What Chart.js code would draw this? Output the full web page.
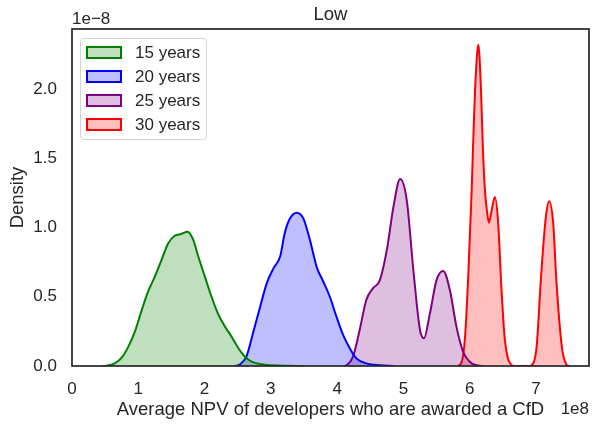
<!DOCTYPE html>
<html>
<head>
<meta charset="utf-8">
<script src="https://cdn.jsdelivr.net/npm/chart.js@4.4.0/dist/chart.umd.min.js"></script>
<style>
  html, body { margin: 0; padding: 0; background: #fff; }
  #wrap { position: relative; width: 592px; height: 427px; }
  #legend {
    position: absolute; left: 80px; top: 38px; width: 127px; height: 102px;
    border: 1px solid #d4d4d4; border-radius: 4px; background: rgba(255,255,255,0.8);
    box-sizing: border-box; font: 17px "Liberation Sans", Arial, sans-serif; color: #262626;
  }
  .item { position: absolute; left: 5px; height: 18px; line-height: 18px; display: flex; align-items: center; white-space: nowrap; }
  .sw { width: 32px; height: 9px; border: 2px solid; margin-right: 13px; }
</style>
</head>
<body>
<div id="wrap">
  <canvas id="kde" width="592" height="427"></canvas>
  <div id="legend"></div>
</div>
<script>
// values in units of 1e8 (x) and 1e-8 (y)
const labels = ['15 years', '20 years', '25 years', '30 years'];
const lineColors = ['green', 'blue', 'purple', 'red'];
const fillColors = ['rgba(0,128,0,0.25)', 'rgba(0,0,255,0.25)', 'rgba(128,0,128,0.25)', 'rgba(255,0,0,0.25)'];

const x15 = [0.45, 0.54, 0.65, 0.75, 0.85, 0.95, 1.05, 1.15, 1.25, 1.35, 1.45, 1.55, 1.65, 1.745, 1.83, 1.905, 2.005, 2.105, 2.21, 2.31, 2.41, 2.51, 2.61, 2.71, 2.86, 3.0, 3.2, 3.5];
const y15 = [0, 0.003, 0.02, 0.06, 0.14, 0.25, 0.40, 0.54, 0.645, 0.765, 0.885, 0.94, 0.953, 0.97, 0.91, 0.79, 0.645, 0.50, 0.37, 0.284, 0.21, 0.128, 0.067, 0.031, 0.012, 0.005, 0.001, 0];

const x20 = [2.45, 2.53, 2.63, 2.73, 2.84, 2.94, 3.04, 3.14, 3.21, 3.29, 3.39, 3.49, 3.59, 3.69, 3.79, 3.89, 3.99, 4.09, 4.19, 4.29, 4.44, 4.65, 4.85];
const y20 = [0, 0.01, 0.067, 0.236, 0.43, 0.60, 0.705, 0.79, 0.96, 1.066, 1.107, 1.066, 0.91, 0.717, 0.61, 0.50, 0.356, 0.224, 0.128, 0.055, 0.019, 0.005, 0];

const x25 = [4.10, 4.14, 4.24, 4.34, 4.44, 4.54, 4.645, 4.75, 4.85, 4.95, 5.05, 5.15, 5.25, 5.31, 5.40, 5.50, 5.60, 5.70, 5.80, 5.90, 6.00, 6.10, 6.2];
const y25 = [0, 0.005, 0.067, 0.26, 0.477, 0.56, 0.62, 0.838, 1.15, 1.35, 1.20, 0.693, 0.26, 0.20, 0.38, 0.62, 0.686, 0.55, 0.284, 0.103, 0.031, 0.005, 0];

const x30 = [5.82, 5.88, 5.93, 5.98, 6.03, 6.06, 6.09, 6.13, 6.17, 6.20, 6.23, 6.26, 6.29, 6.33, 6.38, 6.43, 6.48, 6.53, 6.58, 6.61, 6.66, 6.90, 6.96, 7.01, 7.08, 7.15, 7.20, 7.26, 7.31, 7.39, 7.46, 7.5];
const y30 = [0, 0.03, 0.21, 0.67, 1.27, 1.72, 2.08, 2.32, 2.0, 1.56, 1.27, 1.12, 1.035, 1.12, 1.22, 1.03, 0.55, 0.19, 0.05, 0.02, 0, 0, 0.02, 0.14, 0.67, 1.08, 1.19, 1.03, 0.60, 0.14, 0.01, 0];

const xTicks = [0, 1, 2, 3, 4, 5, 6, 7];
const yTicks = [0, 0.5, 1.0, 1.5, 2.0];

const seriesX = [x15, x20, x25, x30];
const seriesY = [y15, y20, y25, y30];

const FONT = '"Liberation Sans", Arial, sans-serif';
const INK = '#262626';

const datasets = labels.map((lab, i) => ({
  label: lab,
  data: seriesX[i].map((x, j) => ({ x: x, y: seriesY[i][j] })),
  borderColor: lineColors[i],
  backgroundColor: fillColors[i],
  borderWidth: 2,
  fill: 'origin',
  pointRadius: 0,
  cubicInterpolationMode: 'monotone',
}));

// frame + extra texts like matplotlib
const decor = {
  id: 'decor',
  afterDatasetsDraw(chart) {
    const { ctx, chartArea: a } = chart;
    ctx.save();
    ctx.strokeStyle = INK;
    ctx.lineWidth = 1.7;
    ctx.strokeRect(a.left, a.top, a.right - a.left, a.bottom - a.top);
    ctx.fillStyle = INK;
    ctx.textBaseline = 'middle';
    const cx = (a.left + a.right) / 2;
    ctx.font = '18.5px ' + FONT;
    ctx.textAlign = 'center';
    ctx.fillText('Low', cx, 15);
    ctx.fillText('Average NPV of developers who are awarded a CfD', cx, 410);
    ctx.font = '17px ' + FONT;
    ctx.textAlign = 'left';
    ctx.fillText('1e\u22128', a.left, 19);
    ctx.textAlign = 'right';
    ctx.fillText('1e8', a.right, 409);
    ctx.translate(18, (a.top + a.bottom) / 2);
    ctx.rotate(-Math.PI / 2);
    ctx.textAlign = 'center';
    ctx.font = '18.5px ' + FONT;
    ctx.fillText('Density', 0, 0);
    ctx.restore();
  }
};

new Chart(document.getElementById('kde'), {
  type: 'line',
  data: { datasets },
  options: {
    responsive: false,
    animation: false,
    layout: { padding: { top: 29, right: 3, left: 0, bottom: 0 } },
    plugins: { legend: { display: false }, tooltip: { enabled: false } },
    scales: {
      x: {
        type: 'linear', min: 0, max: 7.8,
        afterFit: s => { s.height = 61; },
        afterBuildTicks: s => { s.ticks = xTicks.map(v => ({ value: v })); },
        grid: { display: false, drawTicks: false },
        border: { display: false },
        ticks: { padding: 13, color: INK, font: { family: FONT, size: 17 }, callback: v => String(v) },
      },
      y: {
        min: 0, max: 2.433,
        afterFit: s => { s.width = 72; },
        afterBuildTicks: s => { s.ticks = yTicks.map(v => ({ value: v })); },
        grid: { display: false, drawTicks: false },
        border: { display: false },
        ticks: { padding: 15, color: INK, font: { family: FONT, size: 17 }, callback: v => v.toFixed(1) },
      }
    }
  },
  plugins: [decor]
});

const leg = document.getElementById('legend');
const centers = [13.5, 37.5, 61.7, 85.8];
labels.forEach((lab, i) => {
  const it = document.createElement('div');
  it.className = 'item';
  it.style.top = (centers[i] - 9) + 'px';
  it.innerHTML = '<span class="sw" style="border-color:' + lineColors[i] + ';background:' + fillColors[i] + '"></span>' + lab;
  leg.appendChild(it);
});
</script>
</body>
</html>
